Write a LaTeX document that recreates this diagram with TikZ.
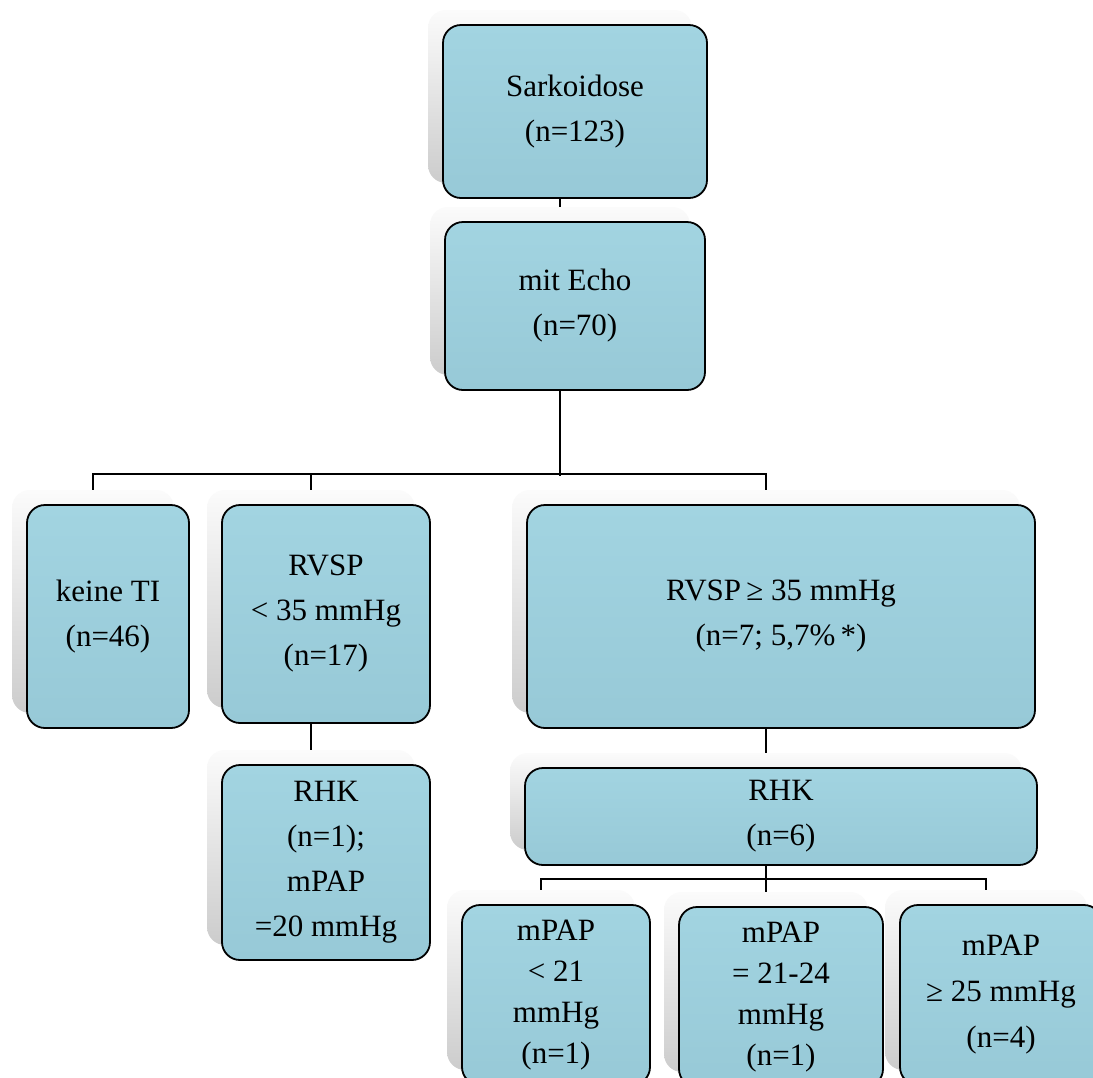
\documentclass[tikz,border=0pt]{standalone}
\usepackage{fontspec}
\setmainfont{Liberation Serif}
\usetikzlibrary{shadows,backgrounds}
\definecolor{boxtop}{RGB}{162,212,225}
\definecolor{boxbot}{RGB}{151,201,215}
\begin{document}
\begin{tikzpicture}[x=1pt,y=-1pt,
  box/.style={draw=black, line width=1.8pt, rounded corners=18pt,
    top color=boxtop, bottom color=boxbot, align=center, inner sep=0pt,
    font=\fontsize{31}{45}\selectfont,
    general shadow={shadow xshift=-15pt, shadow yshift=15pt, draw=none,
      top color=gray!3, bottom color=gray!40}},
  conn/.style={draw=black, line width=1.8pt}]
\useasboundingbox (0,0) rectangle (1093,1077);

\node[box, minimum width=264pt, minimum height=173pt] (s) at (575,111.5) {Sarkoidose\\(n=123)};
\node[box, minimum width=260pt, minimum height=168pt] (e) at (575,306) {mit Echo\\(n=70)};
\node[box, minimum width=162pt, minimum height=223pt] (k) at (108,616.5) {keine TI\\(n=46)};
\node[box, minimum width=208pt, minimum height=218pt] (r1) at (326,614) {RVSP\\< 35 mmHg\\(n=17)};
\node[box, minimum width=508pt, minimum height=223pt] (r2) at (781,616.5) {RVSP\,≥ 35 mmHg\\(n=7; 5,7\%\,*)};
\node[box, minimum width=208pt, minimum height=195pt] (h1) at (326,862.5) {RHK\\(n=1);\\mPAP\\=20 mmHg};
\node[box, minimum width=512pt, minimum height=97pt] (h2) at (781,816.5) {RHK\\(n=6)};
\node[box, minimum width=188pt, minimum height=180pt, font=\fontsize{31}{41}\selectfont] (c1) at (556,995) {mPAP\\< 21\\mmHg\\(n=1)};
\node[box, minimum width=204pt, minimum height=180pt, font=\fontsize{31}{41}\selectfont] (c2) at (781,997) {mPAP\\= 21-24\\mmHg\\(n=1)};
\node[box, minimum width=202pt, minimum height=180pt, font=\fontsize{31}{46}\selectfont] (c3) at (1001,995) {mPAP\\≥ 25 mmHg\\(n=4)};

\begin{scope}[on background layer]
\fill[white] (0,0) rectangle (1093,1077);
\draw[conn] ([xshift=-15pt]s.south) -- ([xshift=-15pt]e.north);
\draw[conn] ([xshift=-15pt]e.south) -- ++(0,85);
\draw[conn] ([xshift=-15pt]k.north) -- ++(0,-30) -| ([xshift=-15pt]r2.north);
\draw[conn] ([xshift=-15pt]r1.north) -- ++(0,-30);
\draw[conn] ([xshift=-15pt]r1.south) -- ([xshift=-15pt]h1.north);
\draw[conn] ([xshift=-15pt]r2.south) -- ([xshift=-15pt]h2.north);
\draw[conn] ([xshift=-15pt]h2.south) -- ++(0,15);
\draw[conn] ([xshift=-15pt]c1.north) -- ++(0,-25) -| ([xshift=-15pt]c3.north);
\draw[conn] ([xshift=-15pt]c2.north) -- ++(0,-27);
\end{scope}
\end{tikzpicture}
\end{document}
